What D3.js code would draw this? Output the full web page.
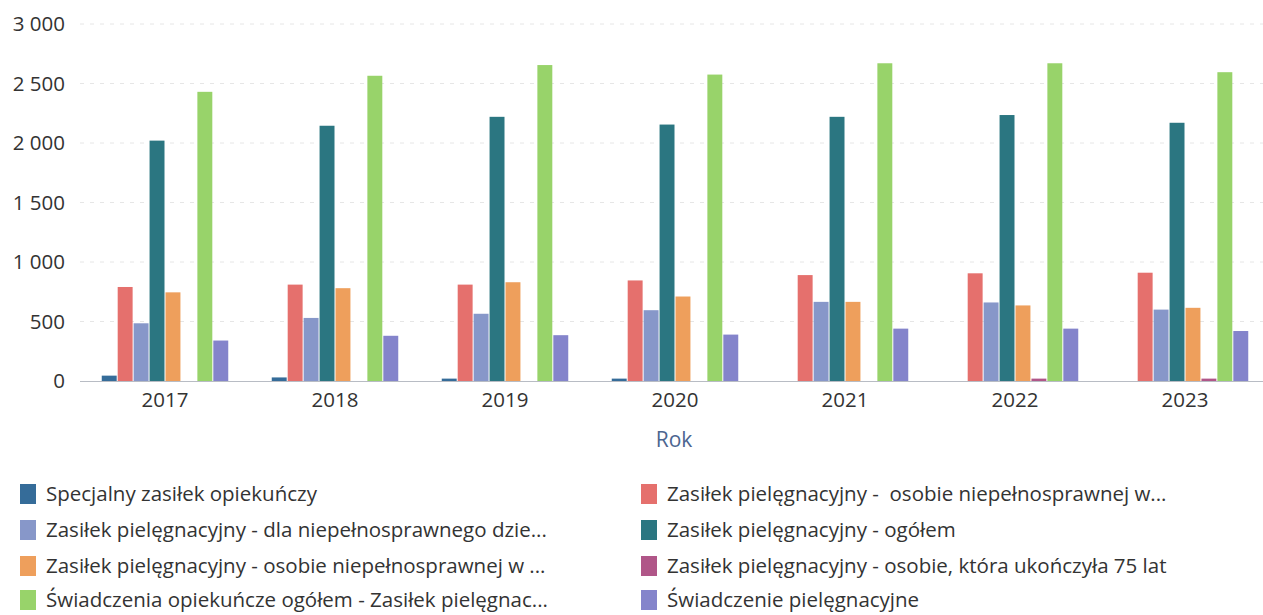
<!DOCTYPE html>
<html lang="pl">
<head>
<meta charset="utf-8">
<script src="https://cdn.jsdelivr.net/npm/d3@7/dist/d3.min.js"></script>
<style>
  html, body { margin: 0; padding: 0; background: #ffffff; }
  svg { display: block; font-family: "Open Sans", "Noto Sans", sans-serif; }
  text { white-space: pre; }
</style>
</head>
<body>
<svg id="chart" width="1263" height="615"></svg>
<script>
// Lata (kategorie osi X)
const years = ["2017", "2018", "2019", "2020", "2021", "2022", "2023"];

// Nazwy serii w kolejności słupków w grupie
const seriesNames = [
  "Specjalny zasiłek opiekuńczy",
  "Zasiłek pielęgnacyjny -  osobie niepełnosprawnej w...",
  "Zasiłek pielęgnacyjny - dla niepełnosprawnego dzie...",
  "Zasiłek pielęgnacyjny - ogółem",
  "Zasiłek pielęgnacyjny - osobie niepełnosprawnej w ...",
  "Zasiłek pielęgnacyjny - osobie, która ukończyła 75 lat",
  "Świadczenia opiekuńcze ogółem - Zasiłek pielęgnac...",
  "Świadczenie pielęgnacyjne"
];

// Wartości poszczególnych serii (2017–2023)
const specjalnyZasilek   = [45, 30, 20, 20, 0, 0, 0];
const zpNiepelnosprawnaA = [790, 810, 810, 845, 890, 905, 910];
const zpDziecko          = [485, 530, 565, 595, 665, 660, 600];
const zpOgolem           = [2020, 2145, 2220, 2155, 2220, 2235, 2170];
const zpNiepelnosprawnaB = [745, 780, 830, 710, 665, 635, 615];
const zp75lat            = [0, 0, 0, 0, 0, 20, 20];
const swiadczeniaOgolem  = [2430, 2565, 2655, 2575, 2670, 2670, 2595];
const swiadczeniePiel    = [340, 380, 385, 390, 440, 440, 420];

const seriesValues = [
  specjalnyZasilek, zpNiepelnosprawnaA, zpDziecko, zpOgolem,
  zpNiepelnosprawnaB, zp75lat, swiadczeniaOgolem, swiadczeniePiel
];

const seriesColors = [
  "#356c99", "#e5706d", "#8797c9", "#2b7681",
  "#ee9f5c", "#b05688", "#98d36a", "#8484cb"
];

// Podziałka osi Y
const yTicks = [0, 500, 1000, 1500, 2000, 2500, 3000];
const yTickLabels = ["0", "500", "1 000", "1 500", "2 000", "2 500", "3 000"];

const axisTitle = "Rok";

const svg = d3.select("#chart");

const plot = { left: 80, right: 1270, top: 24, bottom: 381 };

const x0 = d3.scaleBand()
  .domain(years)
  .range([plot.left, plot.right])
  .paddingInner(0.25)
  .paddingOuter(0.125);

const x1 = d3.scaleBand()
  .domain(d3.range(seriesNames.length))
  .range([0, x0.bandwidth()])
  .padding(0.0);

const y = d3.scaleLinear()
  .domain([0, 3000])
  .range([plot.bottom, plot.top]);

// Linie siatki
svg.append("g")
  .selectAll("line")
  .data(yTicks.filter(d => d > 0))
  .join("line")
  .attr("x1", plot.left)
  .attr("x2", 1263)
  .attr("y1", d => y(d))
  .attr("y2", d => y(d))
  .attr("stroke", "#e6e6e6")
  .attr("stroke-width", 1)
  .attr("stroke-dasharray", "4,6");

// Etykiety osi Y
svg.append("g")
  .selectAll("text")
  .data(yTicks)
  .join("text")
  .attr("x", 65)
  .attr("y", d => y(d))
  .attr("dy", "0.35em")
  .attr("text-anchor", "end")
  .attr("font-size", 20.5)
  .attr("fill", "#333")
  .text((d, i) => yTickLabels[i]);

// Słupki
const groups = svg.append("g")
  .selectAll("g")
  .data(years)
  .join("g")
  .attr("transform", d => `translate(${x0(d)},0)`);

groups.selectAll("rect")
  .data((yr, yi) => seriesValues.map((vals, si) => ({ si, v: vals[yi] })))
  .join("rect")
  .attr("x", d => x1(d.si) + 0.5)
  .attr("width", x1.bandwidth() - 1)
  .attr("y", d => y(d.v))
  .attr("height", d => y(0) - y(d.v))
  .attr("fill", d => seriesColors[d.si]);

// Linia bazowa osi X
svg.append("line")
  .attr("x1", plot.left)
  .attr("x2", 1263)
  .attr("y1", y(0) + 0.5)
  .attr("y2", y(0) + 0.5)
  .attr("stroke", "#b8bcc4")
  .attr("stroke-width", 1);

// Etykiety lat
svg.append("g")
  .selectAll("text")
  .data(years)
  .join("text")
  .attr("x", d => x0(d) + x0.bandwidth() / 2)
  .attr("y", 400)
  .attr("dy", "0.35em")
  .attr("text-anchor", "middle")
  .attr("font-size", 20.5)
  .attr("fill", "#333")
  .text(d => d);

// Tytuł osi X
svg.append("text")
  .attr("x", 674)
  .attr("y", 440)
  .attr("dy", "0.35em")
  .attr("text-anchor", "middle")
  .attr("font-size", 21)
  .attr("fill", "#4c6590")
  .text(axisTitle);

// Legenda w dwóch kolumnach
const legendCols = [20, 641];
const legendRows = [494, 530, 566, 600];
const legend = svg.append("g")
  .selectAll("g")
  .data(seriesNames)
  .join("g")
  .attr("transform", (d, i) => `translate(${legendCols[i % 2]},${legendRows[Math.floor(i / 2)]})`);

legend.append("rect")
  .attr("x", 0)
  .attr("y", -10)
  .attr("width", 16)
  .attr("height", 20)
  .attr("fill", (d, i) => seriesColors[i]);

legend.append("text")
  .attr("x", 26)
  .attr("y", 0)
  .attr("dy", "0.35em")
  .attr("font-size", 20.5)
  .attr("fill", "#333")
  .text(d => d);
</script>
</body>
</html>
